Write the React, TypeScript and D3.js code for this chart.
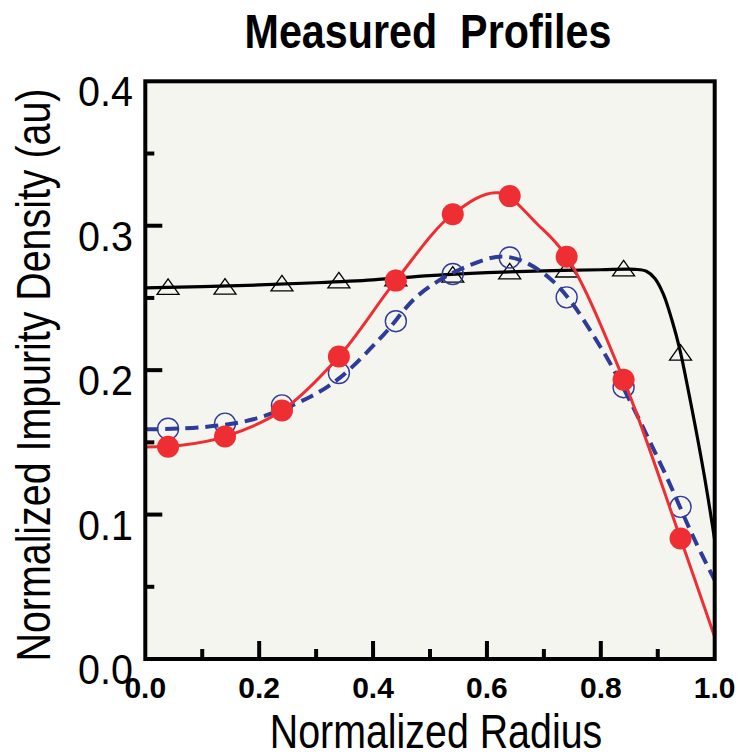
import React from "react";
import * as d3 from "d3";

// Marker positions (normalized radius)
const markerX = [0.04, 0.14, 0.24, 0.34, 0.44, 0.54, 0.64, 0.74, 0.84, 0.94];
// Open triangles (black)
const triangleY = [0.2576, 0.2579, 0.2601, 0.2621, 0.2635, 0.2661, 0.2684, 0.2697, 0.2705, 0.2122];
// Open circles (blue)
const circleY = [0.1594, 0.163, 0.1756, 0.198, 0.2339, 0.2666, 0.278, 0.2504, 0.1882, 0.1053];
// Filled circles (red)
const dotY = [0.147, 0.154, 0.172, 0.2094, 0.262, 0.308, 0.3205, 0.2786, 0.1933, 0.0834];

// Fitted curves
const blackCurveX = [0, 0.1, 0.2, 0.3, 0.4, 0.5, 0.6, 0.7, 0.8, 0.86, 0.88, 0.895, 0.91, 0.925, 0.939, 0.95, 0.98, 1.0];
const blackCurveY = [0.257, 0.2578, 0.259, 0.2605, 0.2625, 0.2655, 0.2675, 0.2688, 0.2695, 0.2698, 0.2685, 0.2635, 0.2525, 0.2345, 0.2139, 0.1932, 0.1309, 0.0824];

const redCurveX = [0, 0.06, 0.14, 0.24, 0.34, 0.44, 0.54, 0.62, 0.69, 0.74, 0.84, 0.94, 1.0];
const redCurveY = [0.1468, 0.1478, 0.154, 0.172, 0.2094, 0.262, 0.308, 0.3228, 0.3005, 0.2786, 0.1933, 0.0834, 0.0152];

const blueCurveX = [0, 0.1, 0.19, 0.29, 0.342, 0.418, 0.48, 0.56, 0.635, 0.712, 0.8, 0.905, 0.963, 1.0];
const blueCurveY = [0.159, 0.1605, 0.166, 0.1816, 0.1948, 0.2243, 0.252, 0.271, 0.2785, 0.263, 0.2157, 0.135, 0.084, 0.0546];

const xTicks = [0, 0.2, 0.4, 0.6, 0.8, 1.0];
const xMinorTicks = [0.1, 0.3, 0.5, 0.7, 0.9];
const xInnerMajor = [0.2, 0.4, 0.6, 0.8];
const yTicks = [0, 0.1, 0.2, 0.3, 0.4];
const yInnerMajor = [0.1, 0.2, 0.3];
const yMinorTicks = [0.05, 0.15, 0.25, 0.35];

const W = 741;
const H = 755;
const L = 145.3, R = 714.7, T = 81.3, B = 659;

export default function App() {
  const x = d3.scaleLinear().domain([0, 1]).range([L, R]);
  const y = d3.scaleLinear().domain([0, 0.4]).range([B, T]);
  const line = d3
    .line<[number, number]>()
    .x((d) => x(d[0]))
    .y((d) => y(d[1]))
    .curve(d3.curveCatmullRom.alpha(0.5));

  const blackPath = line(blackCurveX.map((v, i) => [v, blackCurveY[i]]) as [number, number][]) || "";
  const redPath = line(redCurveX.map((v, i) => [v, redCurveY[i]]) as [number, number][]) || "";
  const bluePath = line(blueCurveX.map((v, i) => [v, blueCurveY[i]]) as [number, number][]) || "";

  const font = "'Liberation Sans', Arial, Helvetica, sans-serif";
  const red = "#ee2e33";
  const blue = "#2f3b98";

  return (
    <svg
      width={W}
      height={H}
      style={{ position: "absolute", left: 0, top: 0, background: "#ffffff" }}
      fontFamily={font}
    >
      <rect x={0} y={0} width={W} height={H} fill="#ffffff" />
      {/* title */}
      <text
        transform={`translate(428,48) scale(0.86,1)`}
        textAnchor="middle"
        fontSize={48}
        fontWeight="bold"
        style={{ whiteSpace: "pre" }}
      >
        {"Measured  Profiles"}
      </text>

      {/* plot background */}
      <rect x={L} y={T} width={R - L} height={B - T} fill="#f4f5ee" />

      <defs>
        <clipPath id="plotclip">
          <rect x={L} y={T} width={R - L} height={B - T} />
        </clipPath>
      </defs>

      <g clipPath="url(#plotclip)">
        <path d={blackPath} fill="none" stroke="#000" strokeWidth={3.2} />
        {markerX.map((mx, i) => {
          const cx = x(mx);
          const cy = y(triangleY[i]);
          return (
            <path
              key={"t" + i}
              d={`M${cx},${cy - 8} L${cx + 11},${cy + 7.5} L${cx - 11},${cy + 7.5} Z`}
              fill="none"
              stroke="#000"
              strokeWidth={1.3}
            />
          );
        })}
        <path d={bluePath} fill="none" stroke={blue} strokeWidth={4} strokeDasharray="13 7" />
        {markerX.map((mx, i) => (
          <circle key={"c" + i} cx={x(mx)} cy={y(circleY[i])} r={10.5} fill="none" stroke={blue} strokeWidth={1.4} />
        ))}
        <path d={redPath} fill="none" stroke={red} strokeWidth={3} />
        {markerX.map((mx, i) => (
          <circle key={"d" + i} cx={x(mx)} cy={y(dotY[i])} r={11} fill={red} />
        ))}
      </g>

      {/* ticks */}
      {xInnerMajor.map((t) => (
        <line key={"xM" + t} x1={x(t)} x2={x(t)} y1={B} y2={B - 18} stroke="#000" strokeWidth={4} />
      ))}
      {xMinorTicks.map((t) => (
        <line key={"xm" + t} x1={x(t)} x2={x(t)} y1={B} y2={B - 10} stroke="#000" strokeWidth={4} />
      ))}
      {yInnerMajor.map((t) => (
        <line key={"yM" + t} x1={L} x2={L + 17} y1={y(t)} y2={y(t)} stroke="#000" strokeWidth={4} />
      ))}
      {yMinorTicks.map((t) => (
        <line key={"ym" + t} x1={L} x2={L + 9} y1={y(t)} y2={y(t)} stroke="#000" strokeWidth={4} />
      ))}

      {/* frame */}
      <rect x={L} y={T} width={R - L} height={B - T} fill="none" stroke="#000" strokeWidth={4} />

      {/* y tick labels */}
      {yTicks.map((t) => (
        <text key={"yl" + t} transform={`translate(133,${y(t) + 25}) scale(0.94,1)`} textAnchor="end" fontSize={42}>
          {t.toFixed(1)}
        </text>
      ))}

      {/* x tick labels */}
      {xTicks.map((t) => (
        <text key={"xl" + t} x={x(t)} y={698} textAnchor="middle" fontSize={30} fontWeight="bold">
          {t.toFixed(1)}
        </text>
      ))}

      {/* axis titles */}
      <text transform={`translate(436,748) scale(0.82,1)`} textAnchor="middle" fontSize={48}>
        Normalized Radius
      </text>
      <text transform={`translate(50,375) rotate(-90) scale(0.82,1)`} textAnchor="middle" fontSize={48}>
        Normalized Impurity Density (au)
      </text>
    </svg>
  );
}
